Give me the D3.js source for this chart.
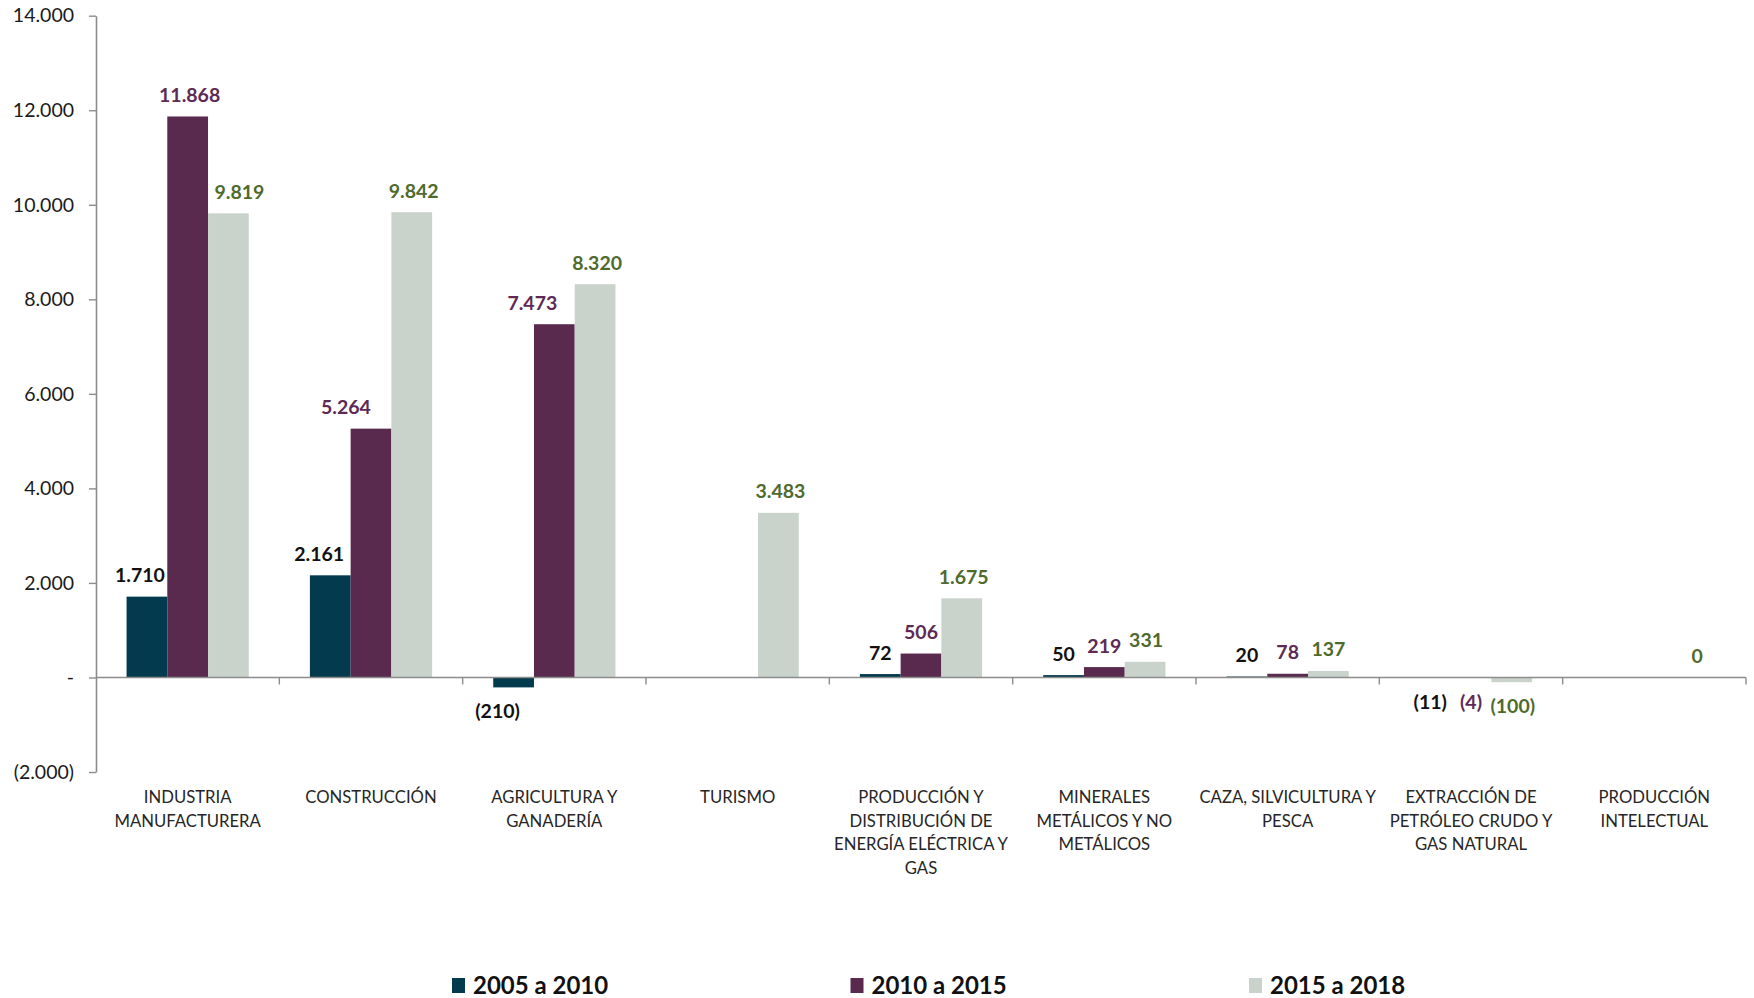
<!DOCTYPE html>
<html>
<head>
<meta charset="utf-8">
<script src="https://cdn.jsdelivr.net/npm/d3@7"></script>
<style>
  body { margin: 0; background: #fff; }
  svg { display: block; font-family: Lato, "Open Sans", sans-serif; }
</style>
</head>
<body>
<svg id="chart" width="1754" height="998"></svg>
<script>
// data
const categories = [
  "INDUSTRIA\nMANUFACTURERA",
  "CONSTRUCCIÓN",
  "AGRICULTURA Y\nGANADERÍA",
  "TURISMO",
  "PRODUCCIÓN Y\nDISTRIBUCIÓN DE\nENERGÍA ELÉCTRICA Y\nGAS",
  "MINERALES\nMETÁLICOS Y NO\nMETÁLICOS",
  "CAZA, SILVICULTURA Y\nPESCA",
  "EXTRACCIÓN DE\nPETRÓLEO CRUDO Y\nGAS NATURAL",
  "PRODUCCIÓN\nINTELECTUAL"
];
const seriesNames = ["2005 a 2010", "2010 a 2015", "2015 a 2018"];
const s2005 = [1710, 2161, -210, null, 72, 50, 20, -11, null];
const s2010 = [11868, 5264, 7473, null, 506, 219, 78, -4, null];
const s2015 = [9819, 9842, 8320, 3483, 1675, 331, 137, -100, 0];
const yTicks = [-2000, 0, 2000, 4000, 6000, 8000, 10000, 12000, 14000];

const barColors = ["#033a4e", "#59294e", "#c9d3cb"];
const labelColors = ["#111111", "#5e2a55", "#4f6a2d"];
const series = [s2005, s2010, s2015];

// hand-moved label offsets in the original (px, horizontal)
const labelNudge = [
  [-7, -11, -16, 0, 0, 0, 0, 0, 0],
  [2, -25, -22, 0, 0, 0, 0, 0, 0],
  [11, 2, 2, 2, 2, 1, 0, 1, 2]
];

const svg = d3.select("#chart");

const y = d3.scaleLinear().domain([-2000, 14000]).range([772, 15.7]);
const x = d3.scaleBand().domain(categories).range([96, 1746]);
const xs = d3.scaleBand().domain(seriesNames).range([0, x.bandwidth()]).paddingOuter(0.75);

const thousands = d3.formatLocale({ decimal: ",", thousands: ".", grouping: [3], currency: ["", ""] }).format(",.0f");
const fmtTick = v => v === 0 ? "-" : v < 0 ? `(${thousands(-v)})` : thousands(v);
const fmtLabel = v => v < 0 ? `(${thousands(-v)})` : thousands(v);

// y axis
const yAxis = svg.append("g")
  .attr("transform", `translate(${x.range()[0]},0)`)
  .call(d3.axisLeft(y).tickValues(yTicks).tickFormat(fmtTick).tickSize(7).tickSizeOuter(0).tickPadding(15));
yAxis.select(".domain").attr("stroke", "#8c8c8c").attr("stroke-width", 1.6);
yAxis.selectAll(".tick line").attr("stroke", "#8c8c8c").attr("stroke-width", 1.4);
yAxis.selectAll(".tick text")
  .attr("fill", "#1a1a1a")
  .style("font-size", "19.5px")
  .style("font-family", "Lato, sans-serif");

// bars
series.forEach((vals, si) => {
  svg.append("g").selectAll("rect")
    .data(vals.map((v, i) => ({ v, c: categories[i] })).filter(d => d.v !== null))
    .join("rect")
    .attr("x", d => x(d.c) + xs(seriesNames[si]))
    .attr("width", xs.bandwidth())
    .attr("y", d => y(Math.max(0, d.v)))
    .attr("height", d => Math.abs(y(d.v) - y(0)))
    .attr("fill", barColors[si]);
});

// x axis line at zero with ticks at category boundaries
const xAxisG = svg.append("g");
xAxisG.append("line")
  .attr("x1", x.range()[0]).attr("x2", x.range()[1])
  .attr("y1", y(0)).attr("y2", y(0))
  .attr("stroke", "#8c8c8c").attr("stroke-width", 1.6);
const bounds = categories.map(c => x(c)).concat([x.range()[1]]);
xAxisG.selectAll(".bt")
  .data(bounds.slice(1))
  .join("line")
  .attr("x1", d => d).attr("x2", d => d)
  .attr("y1", y(0)).attr("y2", y(0) + 7)
  .attr("stroke", "#8c8c8c").attr("stroke-width", 1.4);

// category labels
const catG = svg.append("g");
categories.forEach(c => {
  const t = catG.append("text")
    .attr("x", x(c) + x.bandwidth() / 2)
    .attr("y", 803)
    .attr("text-anchor", "middle")
    .attr("fill", "#262626")
    .style("font-size", "16.7px");
  c.split("\n").forEach((line, li) => {
    t.append("tspan").attr("x", x(c) + x.bandwidth() / 2).attr("dy", li === 0 ? 0 : 23.5).text(line);
  });
});

// data labels
series.forEach((vals, si) => {
  svg.append("g").selectAll("text")
    .data(vals.map((v, i) => ({ v, i, c: categories[i] })).filter(d => d.v !== null))
    .join("text")
    .attr("x", d => x(d.c) + xs(seriesNames[si]) + xs.bandwidth() / 2 + labelNudge[si][d.i])
    .attr("y", d => d.v < 0 ? y(d.v) + 31 : y(d.v) - 14.5)
    .attr("text-anchor", "middle")
    .attr("fill", labelColors[si])
    .style("font-size", "19.5px")
    .style("font-weight", "bold")
    .text(d => fmtLabel(d.v));
});

// legend
const legend = svg.append("g");
seriesNames.forEach((name, i) => {
  const lx = 452 + i * 398.5;
  legend.append("rect")
    .attr("x", lx).attr("y", 978).attr("width", 13).attr("height", 15)
    .attr("fill", barColors[i]);
  legend.append("text")
    .attr("x", lx + 21).attr("y", 994)
    .attr("fill", "#111")
    .style("font-size", "24px")
    .style("font-weight", "bold")
    .text(name);
});
</script>
</body>
</html>
